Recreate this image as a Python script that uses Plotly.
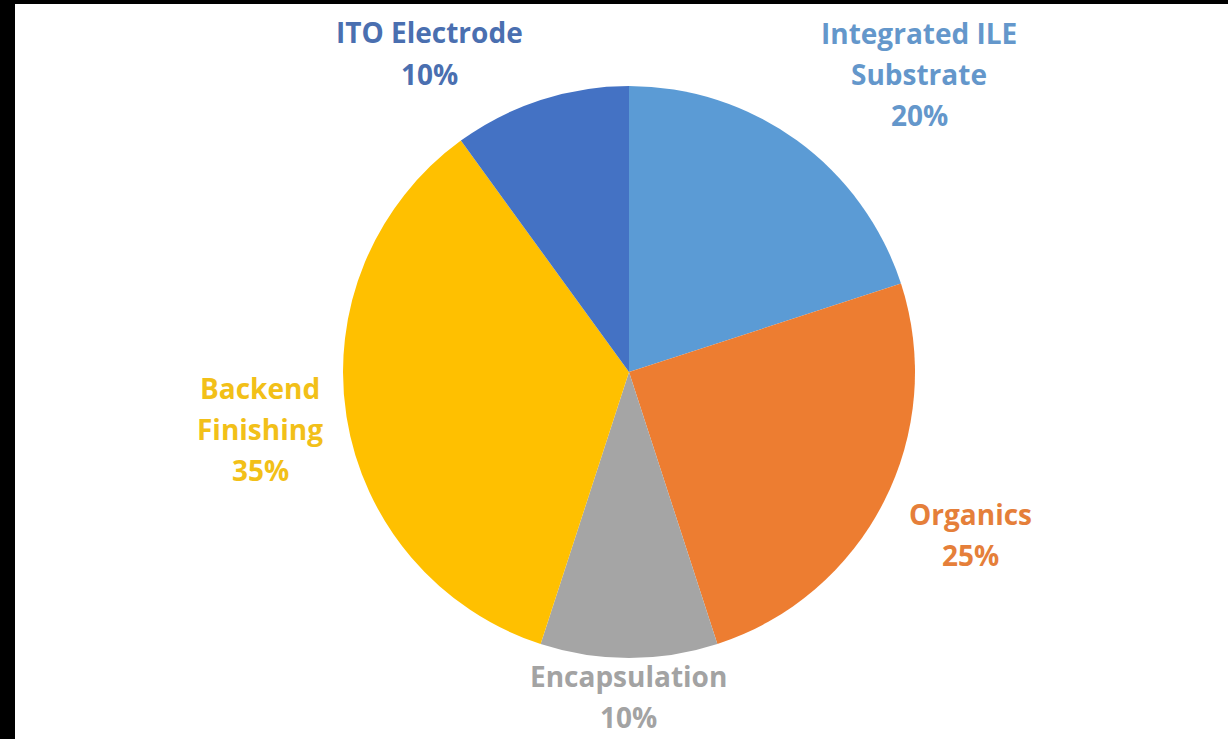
import plotly.graph_objects as go

# Cost breakdown by process step (percent of total), clockwise from 12 o'clock
labels = ["Integrated ILE<br>Substrate", "Organics", "Encapsulation",
          "Backend<br>Finishing", "ITO Electrode"]
values = [20, 25, 10, 35, 10]
colors = ["#5B9BD5", "#ED7D31", "#A5A5A5", "#FFC000", "#4472C4"]
text_colors = ["#6497CB", "#E57F3A", "#A3A3A3", "#F2C018", "#4A6FB0"]

W, H = 1228, 739
CX, CY, R = 629, 372, 286          # pie centre and radius in pixels

# label block centres (pixels) for each slice, same order as labels
label_pos = [(919, 74), (970, 534), (628, 696), (260, 429), (429, 53)]
LINE_GAP = 41
FONT = "Open Sans"

fig = go.Figure(go.Pie(
    labels=[l.replace("<br>", " ") for l in labels],
    values=values,
    sort=False,
    direction="clockwise",
    rotation=0,
    marker=dict(colors=colors, line=dict(width=0)),
    textinfo="none",
    hoverinfo="label+percent",
    domain=dict(x=[(CX - R) / W, (CX + R) / W],
                y=[1 - (CY + R) / H, 1 - (CY - R) / H]),
    showlegend=False,
))

total = sum(values)
annotations = []
for lab, val, col, (px, py) in zip(labels, values, text_colors, label_pos):
    lines = lab.split("<br>") + [f"{round(100 * val / total)}%"]
    n = len(lines)
    for i, line in enumerate(lines):
        y = py + (i - (n - 1) / 2) * LINE_GAP
        annotations.append(dict(
            x=px / W, y=1 - y / H, xref="paper", yref="paper",
            text=line, showarrow=False, xanchor="center", yanchor="middle",
            font=dict(family=FONT, size=28, color=col, weight="bold"),
        ))

# dark frame strips along the left and top edges
shapes = [
    dict(type="rect", xref="paper", yref="paper", x0=0, x1=15 / W, y0=0, y1=1,
         fillcolor="black", line=dict(width=0), layer="above"),
    dict(type="rect", xref="paper", yref="paper", x0=0, x1=1, y0=1 - 4 / H, y1=1,
         fillcolor="black", line=dict(width=0), layer="above"),
]

fig.update_layout(
    width=W, height=H,
    margin=dict(l=0, r=0, t=0, b=0),
    paper_bgcolor="white", plot_bgcolor="white",
    annotations=annotations,
    shapes=shapes,
)

fig.write_html("out.html")
